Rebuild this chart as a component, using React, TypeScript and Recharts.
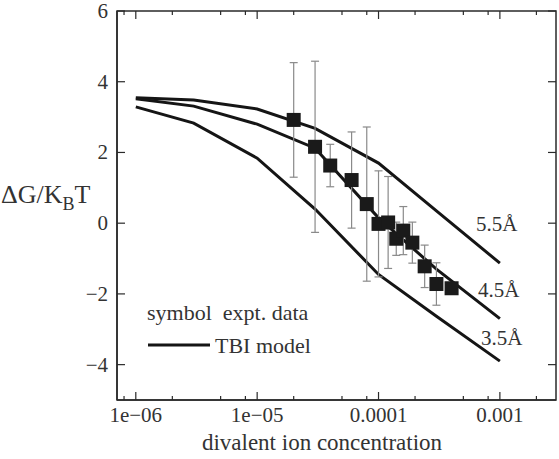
import React from 'react';
import {
  ComposedChart,
  Line,
  Scatter,
  ErrorBar,
  XAxis,
  YAxis,
  Legend,
  LabelList,
} from 'recharts';

// ---- data ----
const curveX = [1e-6, 3e-6, 1e-5, 3e-5, 1e-4, 3e-4, 1e-3];
const tbi55 = [3.55, 3.48, 3.23, 2.68, 1.7, 0.35, -1.13];
const tbi45 = [3.52, 3.31, 2.8, 2.12, 0.15, -1.3, -2.7];
const tbi35 = [3.29, 2.83, 1.84, 0.4, -1.45, -2.63, -3.9];

const exptX = [2e-5, 3e-5, 4e-5, 6e-5, 8e-5, 1e-4, 1.2e-4, 1.4e-4, 1.6e-4, 1.9e-4, 2.4e-4, 3e-4, 4e-4];
const exptY = [2.92, 2.16, 1.63, 1.22, 0.54, -0.02, 0.02, -0.44, -0.21, -0.55, -1.22, -1.72, -1.84];
const exptErr = [1.62, 2.42, 0.6, 1.36, 2.18, 1.5, 1.3, 0.47, 0.68, 0.58, 0.6, 0.6, 0.12];

const xDomain = [7e-7, 2.9e-3];
const yDomain = [-5, 6];
const xMajorTicks = [1e-6, 1e-5, 1e-4, 1e-3];
const xMajorLabels = ['1e\u221206', '1e\u221205', '0.0001', '0.001'];
const xMinorTicks = [8e-7, 2e-6, 5e-6, 8e-6, 2e-5, 5e-5, 8e-5, 2e-4, 5e-4, 8e-4, 2e-3];
const yTicks = [-4, -2, 0, 2, 4, 6];
const yTickLabels = ['\u22124', '\u22122', '0', '2', '4', '6'];

const seriesNames = ['5.5\u00c5', '4.5\u00c5', '3.5\u00c5'];
const legendSymbolText = 'symbol  expt. data';
const legendLineText = 'TBI model';
const xTitle = 'divalent ion concentration';

// tables built from arrays
const curveData = curveX.map((x, i) => ({ x, r55: tbi55[i], r45: tbi45[i], r35: tbi35[i] }));
const exptData = exptX.map((x, i) => ({ x, y: exptY[i], err: exptErr[i] }));
const xAllTicks = [...xMajorTicks, ...xMinorTicks].sort((a, b) => a - b);

// ---- layout ----
const W = 559;
const H = 459;
const PLOT = { left: 117, top: 11, right: 556, bottom: 400 };

const FONT = '"Liberation Serif", "Times New Roman", serif';
const AX = '#2a2a2a';
const TXT = '#333';
const MAJ = 8;
const MIN = 4;

const majorIndex = (v: number) => xMajorTicks.findIndex((t) => Math.abs(t - v) / t < 1e-6);

// x ticks: inward marks on bottom and top border, label below
const BottomTick = (props: any) => {
  const { x, payload } = props;
  const idx = majorIndex(payload.value);
  const len = idx >= 0 ? MAJ : MIN;
  return (
    <g>
      <line x1={x} y1={PLOT.bottom} x2={x} y2={PLOT.bottom - len} stroke={AX} strokeWidth={1.2} />
      <line x1={x} y1={PLOT.top} x2={x} y2={PLOT.top + len} stroke={AX} strokeWidth={1.2} />
      {idx >= 0 && (
        <text x={x} y={PLOT.bottom + 22} textAnchor="middle" fontFamily={FONT} fontSize={21} fill={TXT}>
          {xMajorLabels[idx]}
        </text>
      )}
    </g>
  );
};

// y ticks: inward marks on left and right border, label on the left
const LeftTick = (props: any) => {
  const { y, payload } = props;
  const idx = yTicks.indexOf(payload.value);
  return (
    <g>
      <line x1={PLOT.left} y1={y} x2={PLOT.left + MAJ} y2={y} stroke={AX} strokeWidth={1.2} />
      <line x1={PLOT.right} y1={y} x2={PLOT.right - MAJ} y2={y} stroke={AX} strokeWidth={1.2} />
      <text x={PLOT.left - 9} y={y + 7} textAnchor="end" fontFamily={FONT} fontSize={21} fill={TXT}>
        {yTickLabels[idx]}
      </text>
    </g>
  );
};

const Square = (props: any) => {
  const { cx, cy } = props;
  if (cx == null || cy == null) return null;
  return <rect x={cx - 7} y={cy - 7} width={14} height={14} fill="#1a1a1a" />;
};

const endLabel = (name: string, dx: number, dy: number) => (props: any) => {
  const { x, y, index } = props;
  if (index !== curveX.length - 1) return null;
  return (
    <text x={x + dx} y={y + dy} fontFamily={FONT} fontSize={21} fill={TXT}>
      {name}
    </text>
  );
};

const YLabel = () => (
  <text x={1} y={203} fontFamily={FONT} fontSize={26} fill={TXT}>
    <tspan>{'\u0394G/K'}</tspan>
    <tspan fontSize={18} dy={7}>B</tspan>
    <tspan dy={-7}>T</tspan>
  </text>
);

const XTitle = () => (
  <text x={322} y={450} textAnchor="middle" fontFamily={FONT} fontSize={23} fill={TXT}>
    {xTitle}
  </text>
);

// legend (and the plot frame) drawn in an overlay
const LegendBox = () => (
  <svg width={W} height={H} style={{ position: 'absolute', left: 0, top: 0 }}>
    <rect
      x={PLOT.left}
      y={PLOT.top}
      width={PLOT.right - PLOT.left}
      height={PLOT.bottom - PLOT.top}
      fill="none"
      stroke={AX}
      strokeWidth={1.5}
    />
    <text x={147} y={320} fontFamily={FONT} fontSize={22} fill={TXT} style={{ whiteSpace: 'pre' }}>
      {legendSymbolText}
    </text>
    <line x1={148} y1={345} x2={210} y2={345} stroke="#151515" strokeWidth={3} />
    <text x={215} y={353} fontFamily={FONT} fontSize={22} fill={TXT}>
      {legendLineText}
    </text>
  </svg>
);

export default function App() {
  return (
    <div style={{ position: 'absolute', left: 0, top: 0, width: W, height: H, background: '#fff' }}>
      <ComposedChart width={W} height={H} margin={{ top: PLOT.top, right: W - PLOT.right, bottom: 0, left: 0 }}>
        <XAxis
          xAxisId="bottom"
          dataKey="x"
          type="number"
          scale="log"
          domain={xDomain}
          allowDataOverflow
          ticks={xAllTicks}
          interval={0}
          height={H - PLOT.bottom}
          tickSize={0}
          tickMargin={0}
          tickLine={false}
          tick={<BottomTick />}
          axisLine={{ stroke: AX, strokeWidth: 1.5 }}
          label={<XTitle />}
        />
        <YAxis
          yAxisId="left"
          type="number"
          domain={yDomain}
          allowDataOverflow
          ticks={yTicks}
          interval={0}
          width={PLOT.left}
          tickSize={0}
          tickMargin={0}
          tickLine={false}
          tick={<LeftTick />}
          axisLine={{ stroke: AX, strokeWidth: 1.5 }}
          label={<YLabel />}
        />
        <Line
          xAxisId="bottom"
          yAxisId="left"
          data={curveData}
          dataKey="r55"
          type="linear"
          stroke="#151515"
          strokeWidth={3}
          dot={false}
          isAnimationActive={false}
        >
          <LabelList dataKey="r55" content={endLabel(seriesNames[0], -24, -32)} />
        </Line>
        <Line
          xAxisId="bottom"
          yAxisId="left"
          data={curveData}
          dataKey="r45"
          type="linear"
          stroke="#151515"
          strokeWidth={3}
          dot={false}
          isAnimationActive={false}
        >
          <LabelList dataKey="r45" content={endLabel(seriesNames[1], -22, -22)} />
        </Line>
        <Line
          xAxisId="bottom"
          yAxisId="left"
          data={curveData}
          dataKey="r35"
          type="linear"
          stroke="#151515"
          strokeWidth={3}
          dot={false}
          isAnimationActive={false}
        >
          <LabelList dataKey="r35" content={endLabel(seriesNames[2], -19, -16)} />
        </Line>
        <Scatter
          xAxisId="bottom"
          yAxisId="left"
          data={exptData}
          dataKey="y"
          shape={<Square />}
          isAnimationActive={false}
        >
          <ErrorBar dataKey="err" direction="y" width={4} stroke="#8a8a8a" strokeWidth={1.2} />
        </Scatter>
        <Legend
          layout="horizontal"
          verticalAlign="middle"
          align="center"
          content={<LegendBox />}
          wrapperStyle={{ position: 'absolute', left: 0, top: 0, width: W, height: H, pointerEvents: 'none' }}
        />
      </ComposedChart>
    </div>
  );
}
